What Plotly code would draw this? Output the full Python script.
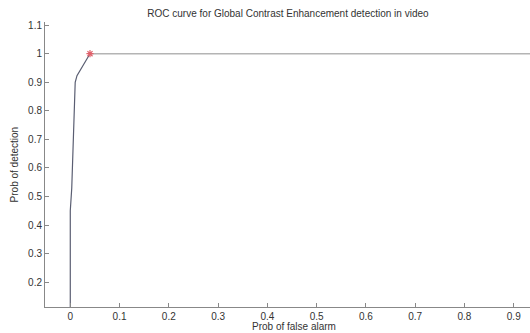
import plotly.graph_objects as go

# ROC data
prob_false_alarm = [0.0, 0.0, 0.003, 0.005, 0.006, 0.0075, 0.010, 0.0136, 0.040]
prob_detection = [0.0, 0.45, 0.53, 0.62, 0.70, 0.80, 0.90, 0.923, 1.0]

# flat part of the curve after the operating point
flat_false_alarm = [0.040, 1.0]
flat_detection = [1.0, 1.0]

# operating point marker
op_false_alarm = [0.040]
op_detection = [1.0]

x_ticks = [0, 0.1, 0.2, 0.3, 0.4, 0.5, 0.6, 0.7, 0.8, 0.9]
x_tick_text = ["0", "0.1", "0.2", "0.3", "0.4", "0.5", "0.6", "0.7", "0.8", "0.9"]
y_ticks = [0.2, 0.3, 0.4, 0.5, 0.6, 0.7, 0.8, 0.9, 1.0, 1.1]
y_tick_text = ["0.2", "0.3", "0.4", "0.5", "0.6", "0.7", "0.8", "0.9", "1", "1.1"]

fig = go.Figure()
fig.add_trace(go.Scatter(x=prob_false_alarm, y=prob_detection, mode="lines",
                         line=dict(color="#5a5e72", width=1.2), showlegend=False))
fig.add_trace(go.Scatter(x=flat_false_alarm, y=flat_detection, mode="lines",
                         line=dict(color="#b4b4b4", width=1.5), showlegend=False))
fig.add_trace(go.Scatter(x=op_false_alarm, y=op_detection, mode="markers",
                         marker=dict(symbol="asterisk-open", size=6, color="#e0606a",
                                     line=dict(color="#e0606a", width=1.2)),
                         showlegend=False))

font_family = "Liberation Sans, Arial, sans-serif"
axis_font = dict(family=font_family, size=10, color="#333333")
fig.update_layout(
    width=530, height=333,
    margin=dict(l=45, r=0, t=22, b=26, autoexpand=False),
    paper_bgcolor="white", plot_bgcolor="white",
    title=dict(text="ROC curve for Global Contrast Enhancement detection in video",
               x=0.5433, xanchor="center", y=0.96, yanchor="middle",
               font=dict(family=font_family, size=10, color="#333333")),
    xaxis=dict(range=[-0.0513, 0.933], tickvals=x_ticks, ticktext=x_tick_text,
               automargin=False,
               showgrid=False, zeroline=False, showline=True, linecolor="#888888",
               linewidth=1, ticks="inside", ticklen=4, tickcolor="#888888",
               tickfont=axis_font),
    yaxis=dict(range=[0.113, 1.111], tickvals=y_ticks, ticktext=y_tick_text,
               automargin=False,
               showgrid=False, zeroline=False, showline=True, linecolor="#888888",
               linewidth=1, ticks="inside", ticklen=4, tickcolor="#888888",
               tickfont=axis_font),
    annotations=[
        dict(text="Prob of false alarm", xref="paper", yref="paper",
             x=0.5125, y=-0.043, xanchor="center", yanchor="top",
             showarrow=False, font=axis_font),
        dict(text="Prob of detection", xref="paper", yref="paper",
             x=-0.062, y=0.5, xanchor="center", yanchor="middle", textangle=-90,
             showarrow=False, font=axis_font),
    ],
)

fig.write_html("out.html", config={"displayModeBar": False},
               post_script="document.body.style.margin='0';document.body.style.overflow='hidden';")
